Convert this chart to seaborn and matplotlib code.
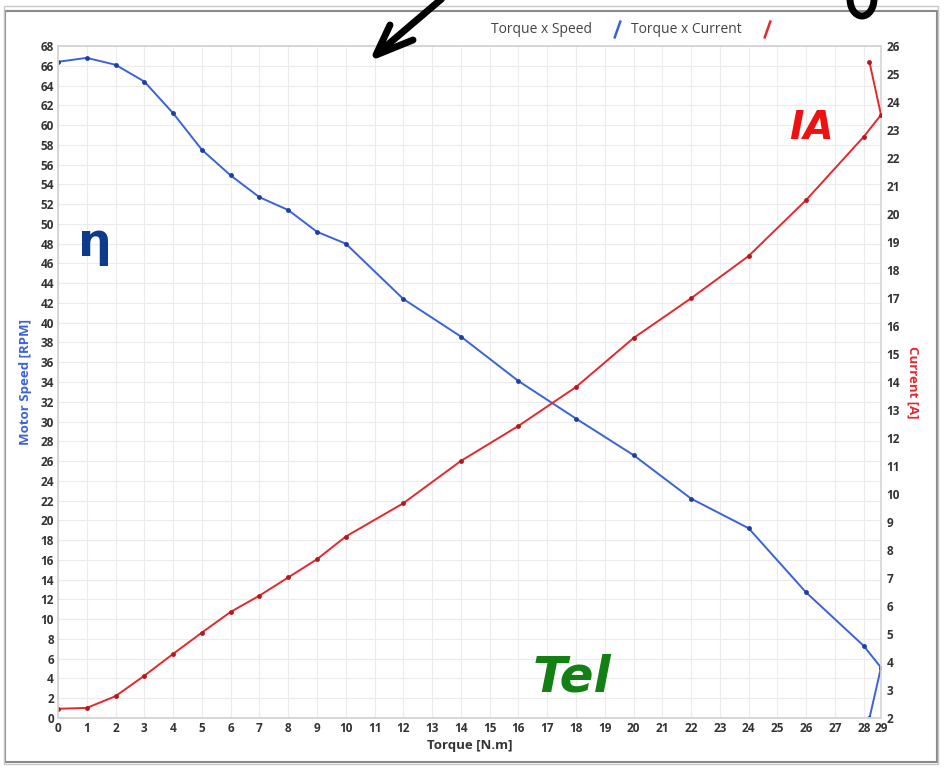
import seaborn as sns
import pandas as pd
import matplotlib.pyplot as plt
import numpy as np
from matplotlib.patches import Rectangle, Ellipse
from matplotlib.lines import Line2D

# data (last two points go back on themselves, as in the original)
torque = [0, 1, 2, 3, 4, 5, 6, 7, 8, 9, 10, 12, 14, 16, 18, 20, 22, 24, 26, 28, 28.6, 28.2]
speed = [66.4, 66.8, 66.1, 64.4, 61.2, 57.5, 54.9, 52.7, 51.4, 49.2, 48.0, 42.4, 38.6,
         34.1, 30.3, 26.6, 22.2, 19.2, 12.7, 7.3, 5.1, 0.0]
current = [2.33, 2.36, 2.78, 3.51, 4.29, 5.05, 5.79, 6.37, 7.02, 7.67, 8.48, 9.67, 11.18,
           12.43, 13.82, 15.57, 16.99, 18.5, 20.5, 22.76, 23.54, 25.42]
x_ticks = list(range(0, 29)) + [28.6]
x_tick_labels = [str(i) for i in range(0, 29)] + ["29"]
speed_ticks = list(range(0, 69, 2))
current_ticks = list(range(2, 27))

df = pd.DataFrame({"torque": torque, "speed": speed, "current": current})

blue = "#3b63d6"
red = "#e5282e"
tick_font = dict(family="Open Sans", weight="bold", size=8.5, color="#333333")

sns.set_style("white")
plt.rcParams["font.family"] = ["Open Sans", "DejaVu Sans"]

fig = plt.figure(figsize=(9.46, 7.69), dpi=100)
ax = fig.add_axes([58 / 946, 51 / 769, 823 / 946, 672 / 769])
ax2 = ax.twinx()

sns.lineplot(data=df, x="torque", y="speed", sort=False, estimator=None, ax=ax,
             color=blue, lw=1.4, marker="o", markersize=3.5, markeredgewidth=0,
             markerfacecolor="#1f3f9e")
sns.lineplot(data=df, x="torque", y="current", sort=False, estimator=None, ax=ax2,
             color=red, lw=1.4, marker="o", markersize=3.5, markeredgewidth=0,
             markerfacecolor="#b01a1e")

ax.set_xlim(0, 28.6)
ax.set_ylim(0, 68)
ax2.set_ylim(2, 26)
ax.set_xticks(x_ticks)
ax.set_xticklabels(x_tick_labels, **tick_font)
ax.set_yticks(speed_ticks)
ax.set_yticklabels([str(v) for v in speed_ticks], **tick_font)
ax2.set_yticks(current_ticks)
ax2.set_yticklabels([str(v) for v in current_ticks], **tick_font)
ax.tick_params(length=0, pad=3)
ax2.tick_params(length=0, pad=4)

ax.grid(True, color="#ececec", lw=0.8)
ax.set_axisbelow(True)
for a in (ax, ax2):
    for s in a.spines.values():
        s.set_color("#d6d6d6")
        s.set_linewidth(1.2)
ax2.spines["right"].set_visible(False)

ax.set_xlabel("Torque [N.m]", family="Open Sans", weight="bold", size=9.5,
              color="#333333", labelpad=3)
ax.set_ylabel("Motor Speed [RPM]", family="Open Sans", weight="bold", size=9.5,
              color=blue, labelpad=6)
ax2.set_ylabel("Current [A]", family="Open Sans", weight="bold", size=9.5,
               color=red, rotation=270, labelpad=14)

# legend: label first, slanted icon after
slant = [(-0.35, -1), (0.35, 1)]
handles = [Line2D([0], [0], ls="none", marker=slant, markersize=13, mec=blue, mew=1.8),
           Line2D([0], [0], ls="none", marker=slant, markersize=13, mec=red, mew=1.8)]
ax.legend(handles, ["Torque x Speed", "Torque x Current"], ncol=2, markerfirst=False,
          frameon=False, handlelength=0.8, columnspacing=0.6, handletextpad=1.4,
          loc="center", bbox_to_anchor=(0.697, 1.024), prop=dict(family="Open Sans", size=10),
          labelcolor="#444444")

# window frame
fig.patches.append(Rectangle((5 / 946, 7 / 769), 932 / 946, 751 / 769, transform=fig.transFigure,
                             fill=False, ec="#8a8a8a", lw=1.5))
fig.patches.append(Rectangle((4 / 946, 5 / 769), 934 / 946, 758 / 769, transform=fig.transFigure,
                             fill=False, ec="#c8c8c8", lw=1.0))

# hand-drawn notes
fig.text(95 / 946, 1 - 243 / 769, "η", color="#0d3a8c", fontsize=34, weight="bold",
         family="DejaVu Sans", ha="center", va="center")
fig.text(812 / 946, 1 - 128 / 769, "IA", color="#ee1111", fontsize=28, weight="bold",
         family="DejaVu Sans", ha="center", va="center", style="italic")
fig.text(572 / 946, 1 - 677 / 769, "Tel", color="#138013", fontsize=36, weight="bold",
         family="DejaVu Sans", ha="center", va="center", style="italic")
fig.patches.append(Ellipse((862 / 946, 1 + 1 / 769), 24 / 946, 34 / 769, transform=fig.transFigure,
                           fill=False, ec="black", lw=5))
fig.add_artist(plt.Line2D([445 / 946, 378 / 946], [1 + 4 / 769, 1 - 53 / 769], color="black",
                          lw=5, solid_capstyle="round", transform=fig.transFigure))
fig.add_artist(plt.Line2D([390 / 946, 376 / 946, 413 / 946], [1 - 25 / 769, 1 - 55 / 769, 1 - 40 / 769],
                          color="black", lw=5, solid_capstyle="round", solid_joinstyle="round",
                          transform=fig.transFigure))

fig.savefig("out.png", dpi=100)
